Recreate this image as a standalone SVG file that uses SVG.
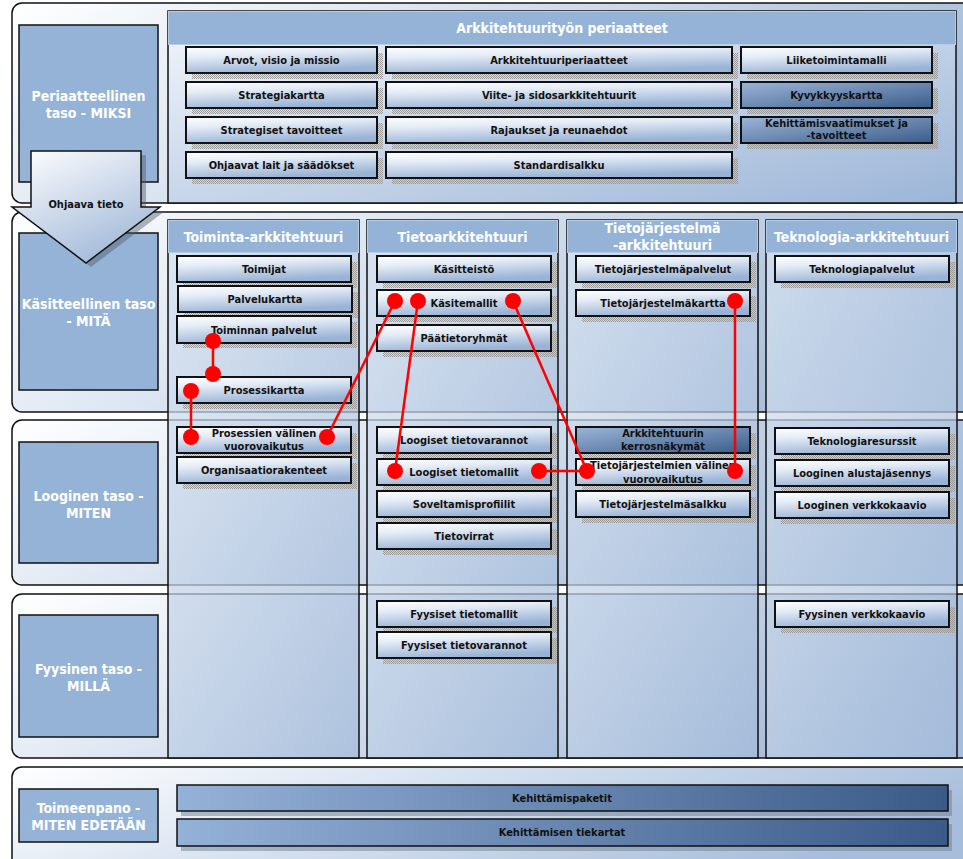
<svg xmlns="http://www.w3.org/2000/svg" width="963" height="859" viewBox="0 0 963 859">
<defs>
<linearGradient id="gLayer" x1="0" y1="0" x2="1" y2="0.3">
<stop offset="0" stop-color="#ffffff"/><stop offset="0.45" stop-color="#d6e1ef"/><stop offset="1" stop-color="#a6bddb"/>
</linearGradient>
<linearGradient id="gCol" x1="0" y1="0" x2="1" y2="1">
<stop offset="0" stop-color="#d6e2f0"/><stop offset="1" stop-color="#a3bad9"/>
</linearGradient>
<linearGradient id="gPrin" x1="0" y1="0" x2="1" y2="1">
<stop offset="0" stop-color="#f2f6fb"/><stop offset="1" stop-color="#9cb5d7"/>
</linearGradient>
<linearGradient id="gBox" x1="0" y1="0" x2="0.35" y2="1">
<stop offset="0" stop-color="#ffffff"/><stop offset="0.35" stop-color="#e6edf6"/><stop offset="1" stop-color="#99b3d6"/>
</linearGradient>
<linearGradient id="gDark" x1="0" y1="0" x2="1" y2="1">
<stop offset="0" stop-color="#9bb5d8"/><stop offset="1" stop-color="#3b5c8a"/>
</linearGradient>
<linearGradient id="gBar" x1="0" y1="0" x2="1" y2="0">
<stop offset="0" stop-color="#94b2d7"/><stop offset="1" stop-color="#3a5a88"/>
</linearGradient>
<linearGradient id="gArrow" x1="0" y1="0" x2="0.6" y2="1">
<stop offset="0" stop-color="#ffffff"/><stop offset="1" stop-color="#a3bad9"/>
</linearGradient>
<pattern id="dots" width="2" height="2" patternUnits="userSpaceOnUse">
<rect x="0" y="0" width="1" height="1" fill="#9a9a9a"/><rect x="1" y="1" width="1" height="1" fill="#9a9a9a"/>
</pattern>
<style>
.layer{fill:url(#gLayer);stroke:#111;stroke-width:1.5}
.lbl{fill:#95b3d7;stroke:#111;stroke-width:1.5}
.lt{font-family:"DejaVu Sans Condensed","DejaVu Sans",sans-serif;font-weight:bold;font-size:14px;fill:#fff;text-anchor:middle}
.col{fill:url(#gCol);fill-opacity:0.72;stroke:#111;stroke-width:1.5}
.hdr{fill:#95b3d7;stroke:#b8cbe4;stroke-width:1}
.ht{font-family:"DejaVu Sans Condensed","DejaVu Sans",sans-serif;font-weight:bold;font-size:14px;fill:#fff;text-anchor:middle}
.sh{fill:url(#dots)}
.bx{fill:url(#gBox);stroke:#111;stroke-width:2}
.dk{fill:url(#gDark);stroke:#111;stroke-width:2}
.bt{font-family:"DejaVu Sans Condensed","DejaVu Sans",sans-serif;font-weight:bold;font-size:11px;fill:#111;text-anchor:middle}
.bar{fill:url(#gBar);stroke:#111;stroke-width:1.5}
.barsh{fill:#6f7f95;opacity:0.5}
.red{stroke:#ff0000;stroke-width:2.5;fill:none}
.dot{fill:#ff0000}
</style>
</defs>

<g id="layers">
<rect class="layer" x="12" y="3" width="975" height="200" rx="10"/>
<rect class="layer" x="12" y="212" width="975" height="200" rx="10"/>
<rect class="layer" x="12" y="420" width="975" height="165" rx="10"/>
<rect class="layer" x="12" y="594" width="975" height="164" rx="10"/>
<rect class="layer" x="12" y="767" width="975" height="110" rx="10"/>
</g>

<g id="label-periaatteellinen"><rect class="lbl" x="19" y="25" width="139" height="157"/><text class="lt" x="88.5" y="101">Periaatteellinen</text><text class="lt" x="88.5" y="118">taso - MIKSI</text></g>
<g id="label-kasitteellinen"><rect class="lbl" x="19" y="233" width="139" height="157"/><text class="lt" x="88.5" y="309">Käsitteellinen taso</text><text class="lt" x="88.5" y="326">- MITÄ</text></g>
<g id="label-looginen"><rect class="lbl" x="19" y="442" width="139" height="121"/><text class="lt" x="88.5" y="501">Looginen taso -</text><text class="lt" x="88.5" y="518">MITEN</text></g>
<g id="label-fyysinen"><rect class="lbl" x="19" y="615" width="139" height="122"/><text class="lt" x="88.5" y="674">Fyysinen taso -</text><text class="lt" x="88.5" y="691">MILLÄ</text></g>
<g id="label-toimeenpano"><rect class="lbl" x="19" y="789" width="139" height="53"/><text class="lt" x="88.5" y="813">Toimeenpano -</text><text class="lt" x="88.5" y="830">MITEN EDETÄÄN</text></g>

<g id="periaatteet">
<rect x="168" y="11" width="788" height="192" fill="url(#gPrin)" stroke="#111" stroke-width="1.5"/>
<rect x="168.5" y="11.5" width="787" height="33" fill="#95b3d7" stroke="#b8cbe4" stroke-width="1"/>
<text class="ht" x="562" y="33">Arkkitehtuurityön periaatteet</text>
</g>

<g id="p-arvot"><rect class="sh" x="192" y="53" width="191" height="26"/><rect class="bx" x="186" y="47" width="191" height="26"/><text class="bt" x="281.5" y="64">Arvot, visio ja missio</text></g>
<g id="p-strategiakartta"><rect class="sh" x="192" y="88" width="191" height="26"/><rect class="bx" x="186" y="82" width="191" height="26"/><text class="bt" x="281.5" y="99">Strategiakartta</text></g>
<g id="p-tavoitteet"><rect class="sh" x="192" y="123" width="191" height="26"/><rect class="bx" x="186" y="117" width="191" height="26"/><text class="bt" x="281.5" y="134">Strategiset tavoitteet</text></g>
<g id="p-lait"><rect class="sh" x="192" y="158" width="191" height="26"/><rect class="bx" x="186" y="152" width="191" height="26"/><text class="bt" x="281.5" y="169">Ohjaavat lait ja säädökset</text></g>

<g id="p-arkkitehtuuriperiaatteet"><rect class="sh" x="392" y="53" width="346" height="26"/><rect class="bx" x="386" y="47" width="346" height="26"/><text class="bt" x="559" y="64">Arkkitehtuuriperiaatteet</text></g>
<g id="p-viite"><rect class="sh" x="392" y="88" width="346" height="26"/><rect class="bx" x="386" y="82" width="346" height="26"/><text class="bt" x="559" y="99">Viite- ja sidosarkkitehtuurit</text></g>
<g id="p-rajaukset"><rect class="sh" x="392" y="123" width="346" height="26"/><rect class="bx" x="386" y="117" width="346" height="26"/><text class="bt" x="559" y="134">Rajaukset ja reunaehdot</text></g>
<g id="p-standardisalkku"><rect class="sh" x="392" y="158" width="346" height="26"/><rect class="bx" x="386" y="152" width="346" height="26"/><text class="bt" x="559" y="169">Standardisalkku</text></g>

<g id="p-liiketoimintamalli"><rect class="sh" x="747" y="53" width="191" height="26"/><rect class="bx" x="741" y="47" width="191" height="26"/><text class="bt" x="836.5" y="64">Liiketoimintamalli</text></g>
<g id="p-kyvykkyyskartta"><rect class="sh" x="747" y="88" width="191" height="26"/><rect class="dk" x="741" y="82" width="191" height="26"/><text class="bt" x="836.5" y="99">Kyvykkyyskartta</text></g>
<g id="p-kehittamisvaatimukset"><rect class="sh" x="747" y="123" width="191" height="26"/><rect class="dk" x="741" y="117" width="191" height="26"/><text class="bt" x="836.5" y="127">Kehittämisvaatimukset ja</text><text class="bt" x="836.5" y="139">-tavoitteet</text></g>

<g id="col-toiminta"><rect class="col" x="168" y="220" width="191" height="538"/><rect class="hdr" x="168.5" y="220.5" width="190" height="32"/><text class="ht" x="263.5" y="242">Toiminta-arkkitehtuuri</text></g>
<g id="col-tieto"><rect class="col" x="367" y="220" width="191" height="538"/><rect class="hdr" x="367.5" y="220.5" width="190" height="32"/><text class="ht" x="462.5" y="242">Tietoarkkitehtuuri</text></g>
<g id="col-tietojarjestelma"><rect class="col" x="567" y="220" width="191" height="538"/><rect class="hdr" x="567.5" y="220.5" width="190" height="32"/><text class="ht" x="662.5" y="233">Tietojärjestelmä</text><text class="ht" x="662.5" y="250">-arkkitehtuuri</text></g>
<g id="col-teknologia"><rect class="col" x="766" y="220" width="191" height="538"/><rect class="hdr" x="766.5" y="220.5" width="190" height="32"/><text class="ht" x="861.5" y="242">Teknologia-arkkitehtuuri</text></g>

<g id="toimijat"><rect class="sh" x="183" y="262" width="174" height="26"/><rect class="bx" x="177" y="256" width="174" height="26"/><text class="bt" x="264" y="273">Toimijat</text></g>
<g id="palvelukartta"><rect class="sh" x="184" y="292" width="174" height="26"/><rect class="bx" x="178" y="286" width="174" height="26"/><text class="bt" x="265" y="303">Palvelukartta</text></g>
<g id="toiminnan-palvelut"><rect class="sh" x="183" y="322" width="174" height="26"/><rect class="bx" x="177" y="316" width="174" height="27"/><text class="bt" x="264" y="334">Toiminnan palvelut</text></g>
<g id="prosessikartta"><rect class="sh" x="183" y="383" width="174" height="26"/><rect class="bx" x="177" y="377" width="174" height="26"/><text class="bt" x="264" y="394">Prosessikartta</text></g>
<g id="prosessien-vuorovaikutus"><rect class="sh" x="183" y="433" width="174" height="26"/><rect class="bx" x="177" y="427" width="174" height="26"/><text class="bt" x="264" y="437">Prosessien välinen</text><text class="bt" x="264" y="450">vuorovaikutus</text></g>
<g id="organisaatiorakenteet"><rect class="sh" x="183" y="463" width="174" height="26"/><rect class="bx" x="177" y="457" width="174" height="26"/><text class="bt" x="264" y="474">Organisaatiorakenteet</text></g>

<g id="kasitteisto"><rect class="sh" x="383" y="262" width="174" height="26"/><rect class="bx" x="377" y="256" width="174" height="26"/><text class="bt" x="464" y="273">Käsitteistö</text></g>
<g id="kasitemallit"><rect class="sh" x="383" y="296" width="174" height="26"/><rect class="bx" x="377" y="290" width="174" height="26"/><text class="bt" x="464" y="307">Käsitemallit</text></g>
<g id="paatietoryhmat"><rect class="sh" x="383" y="331" width="174" height="26"/><rect class="bx" x="377" y="325" width="174" height="26"/><text class="bt" x="464" y="342">Päätietoryhmät</text></g>
<g id="loogiset-tietovarannot"><rect class="sh" x="383" y="433" width="174" height="26"/><rect class="bx" x="377" y="427" width="174" height="26"/><text class="bt" x="464" y="444">Loogiset tietovarannot</text></g>
<g id="loogiset-tietomallit"><rect class="sh" x="383" y="465" width="174" height="26"/><rect class="bx" x="377" y="459" width="174" height="26"/><text class="bt" x="464" y="476">Loogiset tietomallit</text></g>
<g id="soveltamisprofiilit"><rect class="sh" x="383" y="497" width="174" height="26"/><rect class="bx" x="377" y="491" width="174" height="26"/><text class="bt" x="464" y="508">Soveltamisprofiilit</text></g>
<g id="tietovirrat"><rect class="sh" x="383" y="529" width="174" height="26"/><rect class="bx" x="377" y="523" width="174" height="26"/><text class="bt" x="464" y="540">Tietovirrat</text></g>
<g id="fyysiset-tietomallit"><rect class="sh" x="383" y="607" width="174" height="26"/><rect class="bx" x="377" y="601" width="174" height="26"/><text class="bt" x="464" y="618">Fyysiset tietomallit</text></g>
<g id="fyysiset-tietovarannot"><rect class="sh" x="383" y="638" width="174" height="26"/><rect class="bx" x="377" y="632" width="174" height="26"/><text class="bt" x="464" y="649">Fyysiset tietovarannot</text></g>

<g id="tj-palvelut"><rect class="sh" x="582" y="262" width="174" height="26"/><rect class="bx" x="576" y="256" width="174" height="26"/><text class="bt" x="663" y="273">Tietojärjestelmäpalvelut</text></g>
<g id="tj-kartta"><rect class="sh" x="582" y="296" width="174" height="26"/><rect class="bx" x="576" y="290" width="174" height="26"/><text class="bt" x="663" y="307">Tietojärjestelmäkartta</text></g>
<g id="kerrosnakymat"><rect class="sh" x="582" y="433" width="174" height="26"/><rect class="dk" x="576" y="427" width="174" height="26"/><text class="bt" x="663" y="437">Arkkitehtuurin</text><text class="bt" x="663" y="450">kerrosnäkymät</text></g>
<g id="tj-vuorovaikutus"><rect class="sh" x="582" y="465" width="174" height="26"/><rect class="bx" x="576" y="459" width="174" height="26"/><text class="bt" x="663" y="469">Tietojärjestelmien välinen</text><text class="bt" x="663" y="483">vuorovaikutus</text></g>
<g id="tj-salkku"><rect class="sh" x="582" y="497" width="174" height="26"/><rect class="bx" x="576" y="491" width="174" height="26"/><text class="bt" x="663" y="508">Tietojärjestelmäsalkku</text></g>

<g id="teknologiapalvelut"><rect class="sh" x="781" y="262" width="174" height="26"/><rect class="bx" x="775" y="256" width="174" height="26"/><text class="bt" x="862" y="273">Teknologiapalvelut</text></g>
<g id="teknologiaresurssit"><rect class="sh" x="781" y="434" width="174" height="26"/><rect class="bx" x="775" y="428" width="174" height="26"/><text class="bt" x="862" y="445">Teknologiaresurssit</text></g>
<g id="alustajasennys"><rect class="sh" x="781" y="466" width="174" height="26"/><rect class="bx" x="775" y="460" width="174" height="26"/><text class="bt" x="862" y="477">Looginen alustajäsennys</text></g>
<g id="looginen-verkkokaavio"><rect class="sh" x="781" y="498" width="174" height="26"/><rect class="bx" x="775" y="492" width="174" height="26"/><text class="bt" x="862" y="509">Looginen verkkokaavio</text></g>
<g id="fyysinen-verkkokaavio"><rect class="sh" x="781" y="607" width="174" height="26"/><rect class="bx" x="775" y="601" width="174" height="26"/><text class="bt" x="862" y="618">Fyysinen verkkokaavio</text></g>

<g id="kehittamispaketit"><rect class="barsh" x="181" y="790" width="771" height="26"/><rect class="bar" x="177" y="785" width="771" height="26"/><text class="bt" x="562" y="802">Kehittämispaketit</text></g>
<g id="tiekartat"><rect class="barsh" x="181" y="824" width="771" height="27"/><rect class="bar" x="177" y="819" width="771" height="27"/><text class="bt" x="562" y="836">Kehittämisen tiekartat</text></g>

<g id="ohjaava-tieto">
<polygon points="36,155 146,155 146,211 165,211 91,267 17,211 36,211" fill="#4d5a6a" opacity="0.45"/>
<polygon points="31,151 141,151 141,207 160,207 86,263 12,207 31,207" fill="url(#gArrow)" stroke="#111" stroke-width="1.5"/>
<text class="bt" x="86" y="208">Ohjaava tieto</text>
</g>

<g id="connectors">
<line class="red" x1="213" y1="341" x2="213" y2="374"/>
<line class="red" x1="191" y1="391" x2="191" y2="437"/>
<line class="red" x1="395" y1="301" x2="327" y2="437"/>
<line class="red" x1="418" y1="301" x2="395" y2="471"/>
<line class="red" x1="513" y1="301" x2="587" y2="471"/>
<line class="red" x1="539" y1="471" x2="587" y2="471"/>
<line class="red" x1="735" y1="301" x2="735" y2="471"/>
<circle class="dot" cx="213" cy="341" r="8"/>
<circle class="dot" cx="213" cy="374" r="8"/>
<circle class="dot" cx="191" cy="391" r="8"/>
<circle class="dot" cx="191" cy="437" r="8"/>
<circle class="dot" cx="327" cy="437" r="8"/>
<circle class="dot" cx="395" cy="301" r="8"/>
<circle class="dot" cx="418" cy="301" r="8"/>
<circle class="dot" cx="513" cy="301" r="8"/>
<circle class="dot" cx="395" cy="471" r="8"/>
<circle class="dot" cx="539" cy="471" r="8"/>
<circle class="dot" cx="587" cy="471" r="8"/>
<circle class="dot" cx="735" cy="301" r="8"/>
<circle class="dot" cx="735" cy="471" r="8"/>
</g>
</svg>
